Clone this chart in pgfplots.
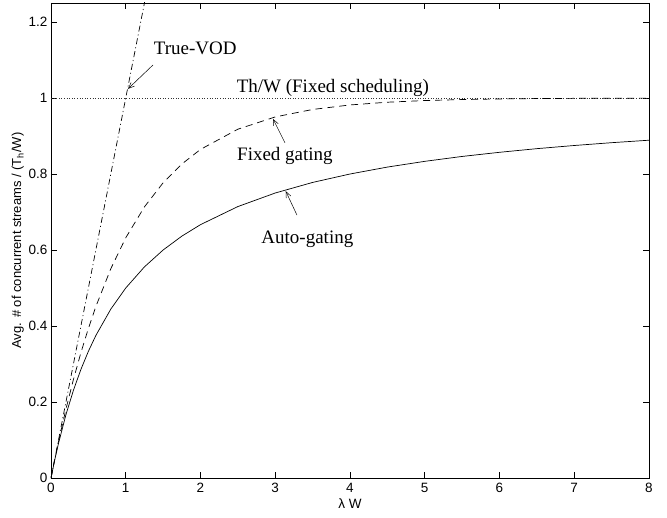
\documentclass[border=0pt]{standalone}
\usepackage{fontspec}
\setmainfont{Liberation Serif}
\newfontfamily\arial{Liberation Sans}
\usepackage{pgfplots}
\pgfplotsset{compat=1.18}
\usetikzlibrary{arrows.meta}
\begin{document}
\begin{tikzpicture}
\begin{axis}[
  name=ax,
  scale only axis,
  width=598pt, height=475pt,
  xmin=0, xmax=8, ymin=0, ymax=1.25,
  xtick={0,1,2,3,4,5,6,7,8},
  ytick={0,0.2,0.4,0.6,0.8,1,1.2},
  xtick pos=both, ytick pos=both,
  tick align=inside,
  major tick length=6pt,
  axis line style={line width=0.6pt},
  every tick/.style={black, line width=0.6pt},
  ticklabel style={font=\arial\fontsize{13.5}{15}\selectfont},
  xticklabel style={yshift=-2pt},
  /pgf/number format/assume math mode=true,
  xlabel={\arial\fontsize{13.5}{15}\selectfont λ W},
  ylabel={\arial\fontsize{13}{15}\selectfont Avg. \# of concurrent streams / (T\textsubscript{h}/W)},
  xlabel style={yshift=1pt},
  ylabel style={yshift=-2pt},
  clip=true,
]
% Th/W (Fixed scheduling)
\addplot[black!80, line width=0.6pt, dotted] coordinates {(0,1) (8,1)};
% True-VOD
\addplot[black, line width=0.7pt, dash pattern=on 6pt off 3pt on 1pt off 3pt] coordinates {(0,0) (1.3,1.3)};
% Fixed gating
\addplot[black, line width=0.7pt, dash pattern=on 7pt off 5pt] coordinates {
(0,0) (0.05,0.0488) (0.1,0.0952) (0.2,0.1813) (0.3,0.2592) (0.4,0.3297) (0.5,0.3935)
(0.6,0.4512) (0.8,0.5507) (1,0.6321) (1.25,0.7135) (1.5,0.7769) (1.75,0.8262) (2,0.8647)
(2.5,0.9179) (3,0.9502) (3.5,0.9698) (4,0.9817) (4.5,0.9889) (5,0.9933) (5.5,0.9959)
(6,0.9975) (6.5,0.9985) (7,0.9991) (7.5,0.9994) (8,0.9997)};
% Auto-gating
\addplot[black, line width=0.7pt] coordinates {
(0,0) (0.05,0.0476) (0.1,0.0909) (0.2,0.1667) (0.3,0.2308) (0.4,0.2857) (0.5,0.3333)
(0.6,0.375) (0.8,0.4444) (1,0.5) (1.25,0.5556) (1.5,0.6) (1.75,0.6364) (2,0.6667)
(2.5,0.7143) (3,0.75) (3.5,0.7778) (4,0.8) (4.5,0.8182) (5,0.8333) (5.5,0.8462)
(6,0.8571) (6.5,0.8667) (7,0.875) (7.5,0.8824) (8,0.8889)};
% annotations
\node[font=\fontsize{19}{21}\selectfont] at (axis cs:1.93,1.13) {True-VOD};
\draw[-{Straight Barb[length=6pt,width=5pt]}, line width=0.5pt] (axis cs:1.365,1.087) -- (axis cs:1.03,1.024);
\node[font=\fontsize{19}{21}\selectfont] at (axis cs:3.77,1.026) {Th/W (Fixed scheduling)};
\node[font=\fontsize{19}{21}\selectfont] at (axis cs:3.13,0.847) {Fixed gating};
\draw[-{Straight Barb[length=6pt,width=5pt]}, line width=0.5pt] (axis cs:3.13,0.882) -- (axis cs:2.97,0.945);
\node[font=\fontsize{19}{21}\selectfont] at (axis cs:3.43,0.627) {Auto-gating};
\draw[-{Straight Barb[length=6pt,width=5pt]}, line width=0.5pt] (axis cs:3.29,0.692) -- (axis cs:3.14,0.755);
\end{axis}
\pgfresetboundingbox
\path ([shift={(-51pt,-39pt)}]ax.south west) rectangle ([shift={(18pt,3pt)}]ax.north east);
\end{tikzpicture}
\end{document}
